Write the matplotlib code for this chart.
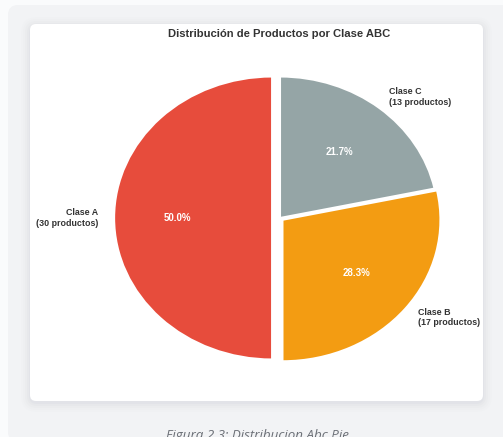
import matplotlib
matplotlib.use("Agg")
import matplotlib.pyplot as plt
from matplotlib.patches import FancyBboxPatch

plt.rcParams['font.family'] = ['Liberation Sans', 'DejaVu Sans']

# Data
categories = ["Clase A", "Clase B", "Clase C"]
counts = [30, 17, 13]
colors = ["#e74c3c", "#f39c12", "#95a5a6"]
title = "Distribución de Productos por Clase ABC"
caption = "Figura 2.3: Distribucion Abc Pie"

W, H = 503, 437
fig = plt.figure(figsize=(W / 100, H / 100), dpi=100)
fig.patch.set_facecolor("#fafbfc")

# background axes in pixel coordinates
bg = fig.add_axes([0, 0, 1, 1], zorder=0)
bg.set_xlim(0, W)
bg.set_ylim(H, 0)
bg.axis("off")

# outer container
bg.add_patch(FancyBboxPatch((8, 5), W - 8 + 20, H, boxstyle="round,pad=0,rounding_size=10",
                            fc="#f2f3f5", ec="none"))
# shadow of the card
for i, a in enumerate([0.05, 0.04, 0.03, 0.02, 0.015]):
    g = (i + 1) * 2
    bg.add_patch(FancyBboxPatch((30 - g + 1, 24 - g + 3), 453 + 2 * g - 2, 377 + 2 * g - 2,
                                boxstyle="round,pad=0,rounding_size=%d" % (6 + g),
                                fc="#9aa0aa", ec="none", alpha=a))
# card
bg.add_patch(FancyBboxPatch((30, 24), 453, 377, boxstyle="round,pad=0,rounding_size=6",
                            fc="white", ec="none"))

bg.text(279, 34, title, ha="center", va="center", fontsize=8.1, fontweight="bold", color="#333333")
bg.text(257, 438.5, caption, ha="center", va="baseline", fontsize=9.6, style="italic",
        color="#6b6f76", family=["Open Sans", "DejaVu Sans"])

# pie axes
cx, cy, rx, ry = 280, 218, 158, 141.5
ax = fig.add_axes([(cx - 1.25 * rx) / W, (H - cy - 1.25 * ry) / H, 2.5 * rx / W, 2.5 * ry / H], zorder=1)
ax.patch.set_alpha(0)

labels = [f"{c}\n({n} productos)" for c, n in zip(categories, counts)]
wedges, texts, autotexts = ax.pie(
    counts, labels=labels, colors=colors, explode=(0.05, 0.02, 0.0),
    autopct="%1.1f%%", startangle=90,
    wedgeprops=dict(edgecolor="white", linewidth=1.5),
    textprops=dict(fontsize=6.4, fontweight="bold", color="#333333"),
)
for t in autotexts:
    t.set_color("white")
    t.set_fontsize(7.0)
    t.set_fontweight("bold")

ax.set_aspect("auto")
ax.set_xlim(-1.25, 1.25)
ax.set_ylim(-1.25, 1.25)

fig.savefig("out.png", dpi=100, facecolor=fig.get_facecolor())
